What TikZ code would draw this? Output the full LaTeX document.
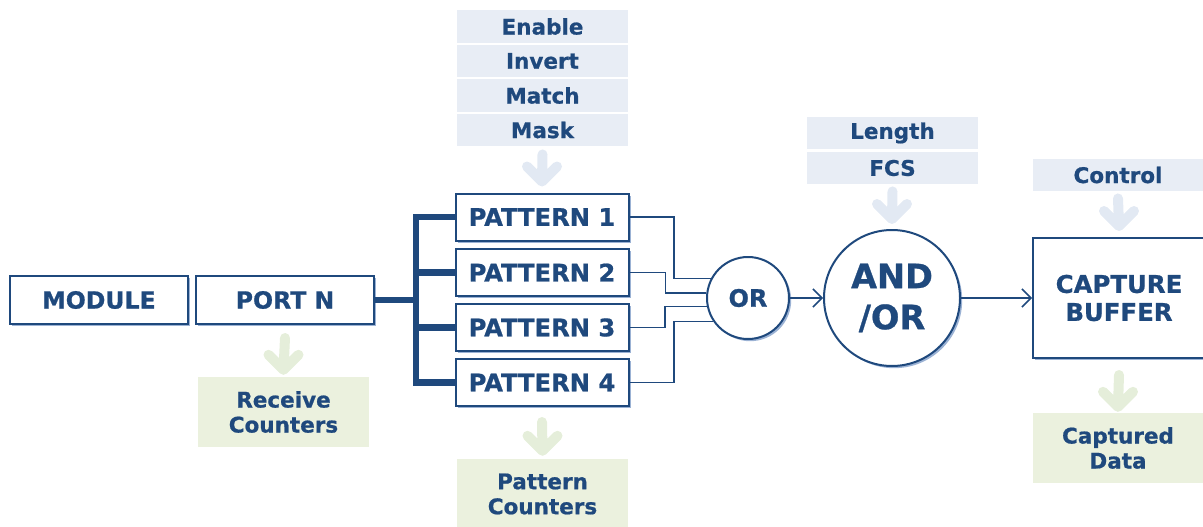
\documentclass[tikz,border=0pt]{standalone}
\usepackage{fontspec}
\setmainfont{DejaVu Sans}[BoldFeatures={FakeBold=0.8}]
\usetikzlibrary{shadows,arrows.meta,calc}
\definecolor{dblue}{RGB}{31,73,125}
\definecolor{lblue}{RGB}{232,237,245}
\definecolor{lgreen}{RGB}{235,241,222}
\definecolor{ablue}{RGB}{226,233,243}
\definecolor{agreen}{RGB}{229,238,218}
\definecolor{shblue}{RGB}{155,178,212}
\newcommand\fatarr[3]{\draw[#1,line width=10pt,line cap=round,line join=round] (#2) -- (#3) (#3) ++(-15,-15) -- (#3) -- ++(15,-15);}
\begin{document}
\begin{tikzpicture}[x=1pt,y=-1pt,
  every node/.style={text=dblue, inner sep=0pt},
  blk/.style={draw=dblue, line width=2pt, fill=white,
    drop shadow={shadow xshift=2.2pt,shadow yshift=-2.2pt,fill=shblue,opacity=1}},
  pbox/.style={blk, minimum width=173pt, minimum height=47pt, font=\bfseries\fontsize{24.2}{28}\selectfont},
  mbox/.style={blk, minimum width=178pt, minimum height=48pt, font=\bfseries\fontsize{23.6}{27}\selectfont},
  tagbox/.style={fill=lblue, minimum width=171pt, minimum height=32.5pt, font=\bfseries\fontsize{21.5}{25}\selectfont},
  outbox/.style={fill=lgreen, minimum width=171pt, align=center, font=\bfseries\fontsize{21.5}{25}\selectfont},
  bus/.style={draw=dblue, line width=6.5pt},
  wire/.style={draw=dblue, line width=1.5pt},
  arrtip/.style={-{Straight Barb[length=9pt,width=18pt,line width=1.5pt]}}
]
\useasboundingbox (0,0) rectangle (1203,527);

% top tags
\node[tagbox] (enable) at (542.5,26.5) {Enable};
\node[tagbox] (invert) at (542.5,61) {Invert};
\node[tagbox] (match) at (542.5,95.5) {Match};
\node[tagbox] (mask) at (542.5,130) {Mask};
\node[tagbox] (length) at (892.5,133) {Length};
\node[tagbox] (fcs) at (892.5,168) {FCS};
\node[tagbox] (control) at (1118,175) {Control};

% main blocks
\node[mbox] (module) at (99,300) {MODULE};
\node[mbox] (portn) at (285,300) {PORT N};
\node[pbox] (p1) at (542,217) {PATTERN 1};
\node[pbox] (p2) at (542,272.5) {PATTERN 2};
\node[pbox] (p3) at (542,327.5) {PATTERN 3};
\node[pbox] (p4) at (542,382.5) {PATTERN 4};
\node[blk, circle, minimum size=82pt, font=\bfseries\fontsize{24}{28}\selectfont] (orn) at (748,298) {OR};
\node[blk, circle, minimum size=136pt, align=center, font=\bfseries\fontsize{33.5}{41}\selectfont] (andor) at (892,298) {AND\\/OR};
\node[blk, minimum width=172pt, minimum height=120pt, align=center, font=\bfseries\fontsize{24.4}{28}\selectfont] (cap) at (1119,298) {CAPTURE\\BUFFER};

% outputs
\node[outbox, minimum height=70pt] (recv) at (283.5,412) {Receive\\Counters};
\node[outbox, minimum height=70pt] (pcnt) at (542.5,494) {Pattern\\Counters};
\node[outbox, minimum height=70pt] (cdata) at (1118,448) {Captured\\Data};

% bus
\coordinate (busx) at (416,300);
\draw[bus] (p1.west) -| (busx) |- (p4.west);
\draw[bus] (portn.east) -- (portn.east -| busx);
\draw[bus] (p2.west) -- (p2.west -| busx);
\draw[bus] (p3.west) -- (p3.west -| busx);

% wires to OR
\draw[wire] (p1.east) -| ([xshift=-37pt]orn.152.4) -- (orn.152.4);
\draw[wire] (p2.east) -| ([xshift=-41pt]orn.173) -- (orn.173);
\draw[wire] (p3.east) -| ([xshift=-42pt]orn.192.7) -- (orn.192.7);
\draw[wire] (p4.east) -| ([xshift=-39pt]orn.214.1) -- (orn.214.1);
\draw[wire, arrtip] (orn.east) -- (andor.west);
\draw[wire, arrtip] (andor.east) -- (cap.west);

% wide arrows
\fatarr{ablue}{[yshift=-8pt]mask.south}{[yshift=11pt]p1.north}
\fatarr{ablue}{[yshift=-7pt]fcs.south}{[yshift=10pt]andor.north}
\fatarr{ablue}{[yshift=-7pt]control.south}{[yshift=11pt]cap.north}
\fatarr{agreen}{[yshift=-13pt]portn.south}{[yshift=7pt]recv.north}
\fatarr{agreen}{[yshift=-15pt]p4.south}{[yshift=8pt]pcnt.north}
\fatarr{agreen}{[yshift=-16pt]cap.south}{[yshift=6pt]cdata.north}
\end{tikzpicture}
\end{document}
